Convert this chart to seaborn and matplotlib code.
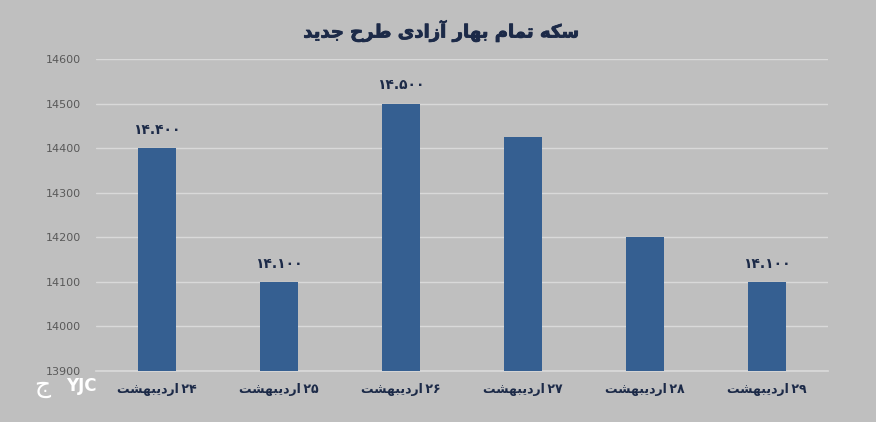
import matplotlib
matplotlib.use("Agg")
import matplotlib.pyplot as plt
import matplotlib.patheffects as pe
import seaborn as sns
import pandas as pd

# -----------------------------
# data
# -----------------------------
days = ["۲۴", "۲۵", "۲۶", "۲۷", "۲۸", "۲۹"]
month = "اردیبهشت"
prices = [14400, 14100, 14500, 14425, 14200, 14100]
bar_labels = ["۱۴.۴۰۰", "۱۴.۱۰۰", "۱۴.۵۰۰", "", "", "۱۴.۱۰۰"]
y_ticks = [13900, 14000, 14100, 14200, 14300, 14400, 14500, 14600]
title = "سکه تمام بهار آزادی طرح جدید"

# -----------------------------
# tiny arabic shaper (matplotlib has no shaping / bidi)
# -----------------------------
FORMS = {
    "ا": (0xFE8D, 0xFE8E, None, None),
    "آ": (0xFE81, 0xFE82, None, None),
    "ب": (0xFE8F, 0xFE90, 0xFE91, 0xFE92),
    "ت": (0xFE95, 0xFE96, 0xFE97, 0xFE98),
    "ج": (0xFE9D, 0xFE9E, 0xFE9F, 0xFEA0),
    "ح": (0xFEA1, 0xFEA2, 0xFEA3, 0xFEA4),
    "د": (0xFEA9, 0xFEAA, None, None),
    "ر": (0xFEAD, 0xFEAE, None, None),
    "ز": (0xFEAF, 0xFEB0, None, None),
    "س": (0xFEB1, 0xFEB2, 0xFEB3, 0xFEB4),
    "ش": (0xFEB5, 0xFEB6, 0xFEB7, 0xFEB8),
    "ط": (0xFEC1, 0xFEC2, 0xFEC3, 0xFEC4),
    "م": (0xFEE1, 0xFEE2, 0xFEE3, 0xFEE4),
    "ه": (0xFEE9, 0xFEEA, 0xFEEB, 0xFEEC),
    "ک": (0xFB8E, 0xFB8F, 0xFB90, 0xFB91),
    "ی": (0xFBFC, 0xFBFD, 0xFBFE, 0xFBFF),
}


def shape(word):
    out = []
    for i, ch in enumerate(word):
        if ch not in FORMS:
            out.append(ch)
            continue
        prev = word[i - 1] if i > 0 else None
        nxt = word[i + 1] if i + 1 < len(word) else None
        jp = prev in FORMS and FORMS[prev][2] is not None
        jn = nxt in FORMS and FORMS[ch][2] is not None
        iso, fin, ini, med = FORMS[ch]
        if jp and jn:
            code = med
        elif jp:
            code = fin
        elif jn:
            code = ini
        else:
            code = iso
        out.append(chr(code))
    return "".join(out)


def rtl(text):
    return shape(text)[::-1]


df = pd.DataFrame({"day": days, "price": prices})
xlabels = [rtl(month) + "\u2009" + d for d in days]

bg = "#bfbfbf"
navy = "#1c2a48"

sns.set_theme(style="white")
plt.rcParams["font.family"] = ["DejaVu Sans"]

fig = plt.figure(figsize=(8.76, 4.22), dpi=100, facecolor=bg)
ax = fig.add_axes([96 / 876, 1 - 371 / 422, 732 / 876, 312 / 422])
ax.set_facecolor(bg)

sns.barplot(data=df, x="day", y="price", color="#355f91", width=0.31,
            saturation=1, linewidth=0, ax=ax, zorder=3)

ax.set_ylim(13900, 14600)
ax.set_xlim(-0.5, 5.5)
ax.set_yticks(y_ticks)
ax.set_yticklabels([str(v) for v in y_ticks], color="#595959", fontsize=8)
ax.set_xticks(range(len(days)))
ax.set_xticklabels(xlabels, color=navy, fontsize=9, fontweight="bold")
ax.tick_params(axis="y", length=0, pad=11)
ax.tick_params(axis="x", length=0, pad=9)
ax.grid(axis="y", color="#d9d9d9", linewidth=1, zorder=0)
for s in ["top", "right", "left"]:
    ax.spines[s].set_visible(False)
ax.spines["bottom"].set_color("#d9d9d9")
ax.set_xlabel("")
ax.set_ylabel("")

for i, (v, lab) in enumerate(zip(prices, bar_labels)):
    if lab:
        ax.text(i, v + 25, lab, ha="center", va="bottom", fontsize=10,
                fontweight="bold", color=navy)

fig.text(441 / 876, 1 - 31 / 422, rtl(title), ha="center", va="center",
         fontsize=13, fontweight="bold", color=navy,
         path_effects=[pe.withStroke(linewidth=0.6, foreground=navy)])

# watermark
fig.text(66 / 876, 1 - 386 / 422, "YJC", ha="left", va="center",
         fontsize=12, fontweight="bold", color="white")
fig.text(42 / 876, 1 - 386 / 422, chr(0xFE9D), ha="center", va="center",
         fontsize=18, color="white")

fig.savefig("out.png", dpi=100, facecolor=bg)
